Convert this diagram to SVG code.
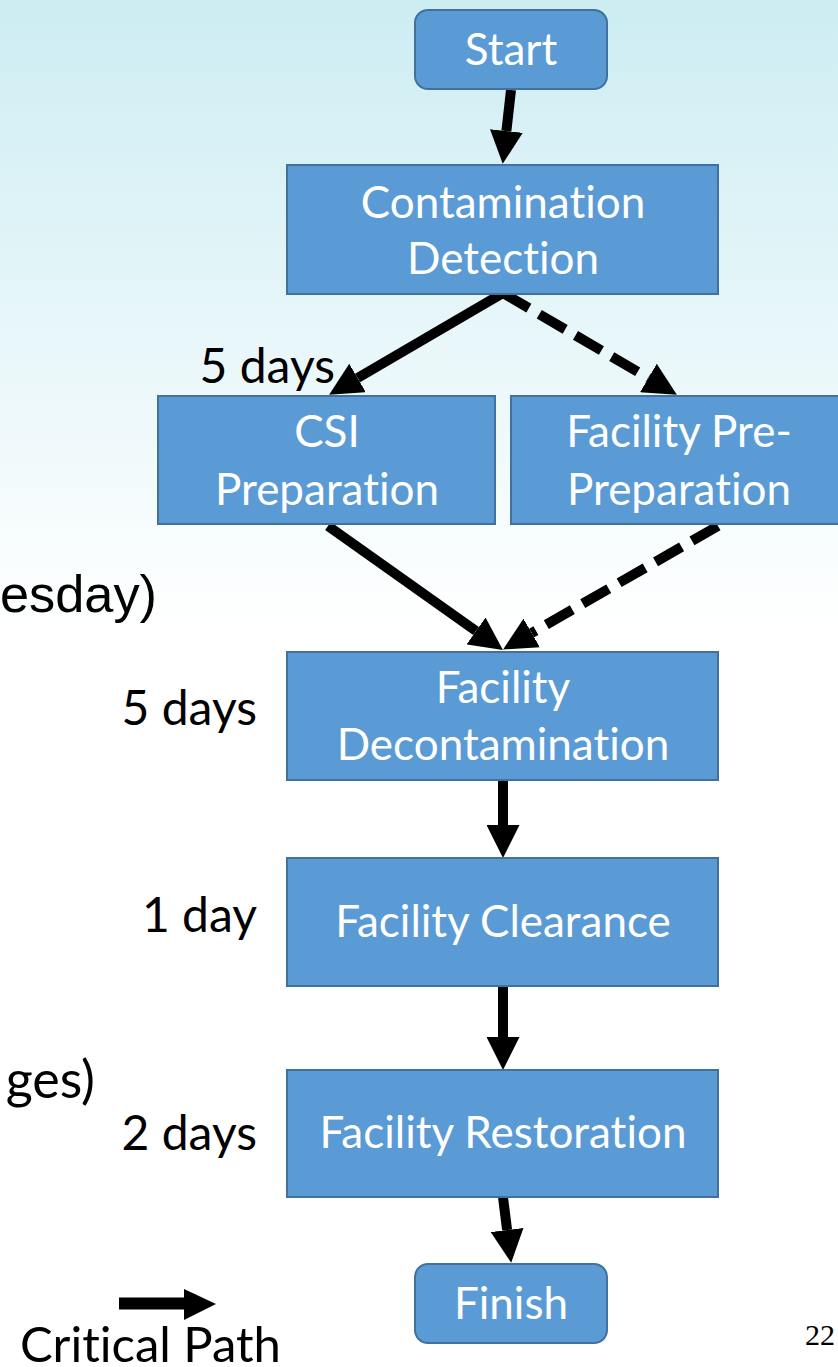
<svg xmlns="http://www.w3.org/2000/svg" width="838" height="1367" viewBox="0 0 838 1367">
<defs>
<linearGradient id="bg" x1="0" y1="0" x2="0" y2="1">
<stop offset="0" stop-color="#cdedf3"/>
<stop offset="0.46" stop-color="#ffffff"/>
<stop offset="1" stop-color="#ffffff"/>
</linearGradient>
<marker id="ah" markerUnits="userSpaceOnUse" markerWidth="33" markerHeight="33" viewBox="0 0 33 33" refX="0" refY="16.5" orient="auto">
<path d="M0,0 L33,16.5 L0,33 z" fill="#000"/>
</marker>
<style>
text{font-variant-ligatures:none;font-feature-settings:"liga" 0}
.box{fill:#5b9bd5;stroke:#41719c;stroke-width:2}
.nt{font-family:Lato,"Open Sans",sans-serif;font-size:44px;fill:#fff;text-anchor:middle}
.lb{font-family:Lato,"Open Sans",sans-serif;font-size:48px;fill:#000;text-anchor:end}
.ar{stroke:#000;stroke-width:10;fill:none;marker-end:url(#ah)}
.da{stroke-dasharray:30 12}
</style>
</defs>
<rect x="0" y="0" width="838" height="1367" fill="url(#bg)"/>

<text x="0" y="612" style="font-family:'Liberation Sans',Arial,sans-serif;font-size:52px;fill:#000" textLength="157" lengthAdjust="spacingAndGlyphs">esday)</text>
<text x="95" y="1098" class="lb" style="font-size:52px">ges)</text>

<g id="connectors">
<line class="ar" x1="511" y1="90" x2="506.4" y2="131"/>
<line class="ar" x1="503" y1="293" x2="357.6" y2="378"/>
<line class="ar da" x1="503" y1="293" x2="648.4" y2="378"/>
<line class="ar" x1="328" y1="526" x2="476" y2="631"/>
<line class="ar da" x1="718" y1="526" x2="531.7" y2="633"/>
<line class="ar" x1="503" y1="781" x2="503" y2="825"/>
<line class="ar" x1="503" y1="987" x2="503" y2="1037"/>
<line class="ar" x1="503" y1="1197" x2="507.1" y2="1230"/>
</g>

<g id="start">
<rect class="box" x="415" y="10" width="192" height="79" rx="13"/>
<text class="nt" x="511" y="65">Start</text>
</g>
<g id="contamination-detection">
<rect class="box" x="287" y="165" width="431" height="129"/>
<text class="nt" x="503" y="218">Contamination</text>
<text class="nt" x="503" y="274">Detection</text>
</g>
<g id="csi-preparation">
<rect class="box" x="158" y="396" width="337" height="128"/>
<text class="nt" x="327" y="447">CSI</text>
<text class="nt" x="327" y="505">Preparation</text>
</g>
<g id="facility-pre-preparation">
<rect class="box" x="511" y="396" width="338" height="128"/>
<text class="nt" x="679" y="447">Facility Pre-</text>
<text class="nt" x="679" y="505">Preparation</text>
</g>
<g id="facility-decontamination">
<rect class="box" x="287" y="652" width="431" height="128"/>
<text class="nt" x="503" y="703">Facility</text>
<text class="nt" x="503" y="760">Decontamination</text>
</g>
<g id="facility-clearance">
<rect class="box" x="287" y="858" width="431" height="128"/>
<text class="nt" x="503" y="937">Facility Clearance</text>
</g>
<g id="facility-restoration">
<rect class="box" x="287" y="1070" width="431" height="127"/>
<text class="nt" x="503" y="1148">Facility Restoration</text>
</g>
<g id="finish">
<rect class="box" x="415" y="1264" width="192" height="79" rx="13"/>
<text class="nt" x="511" y="1319">Finish</text>
</g>

<text class="lb" x="335" y="383">5 days</text>
<text class="lb" x="257" y="725">5 days</text>
<text class="lb" x="257" y="932">1 day</text>
<text class="lb" x="257" y="1150">2 days</text>

<g id="legend">
<line x1="119" y1="1303.5" x2="185" y2="1303.5" stroke="#000" stroke-width="12"/>
<path d="M184,1289 L216,1304 L184,1320 z" fill="#000"/>
<text x="20" y="1362" style="font-family:Lato,'Open Sans',sans-serif;font-size:49px;fill:#000">Critical Path</text>
</g>
<text x="805" y="1345" style="font-family:'Liberation Serif','Times New Roman',serif;font-size:30px;fill:#000">22</text>
</svg>
